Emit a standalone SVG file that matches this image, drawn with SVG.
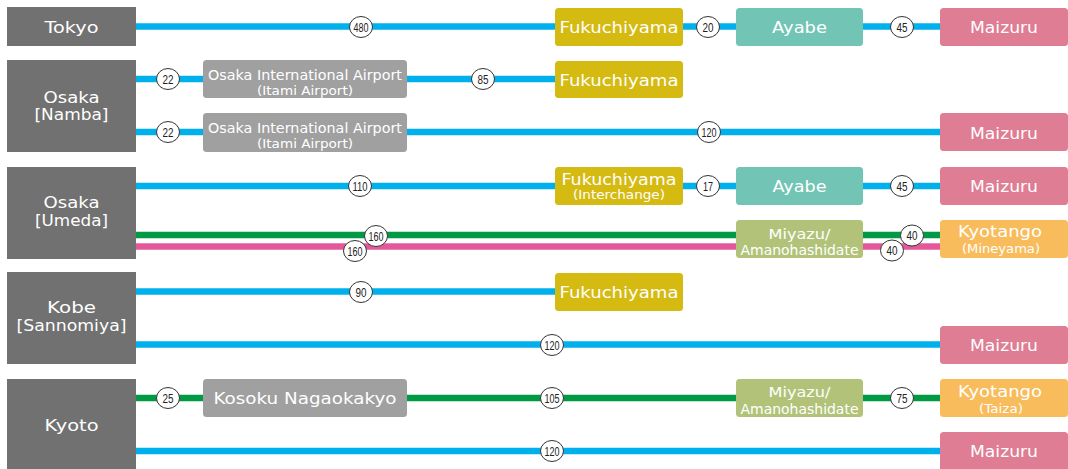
<svg xmlns="http://www.w3.org/2000/svg" width="1068" height="469" viewBox="0 0 1068 469">
<style>
.bg{fill:#ffffff}
.city{fill:#717171}
.gray{fill:#a0a0a0}
.fuku{fill:#d5ba12}
.ayabe{fill:#72c4b4}
.mai{fill:#de7d93}
.miya{fill:#b2c379}
.kyot{fill:#f8bc5c}
.blue{stroke:#00b0ec;stroke-width:6.5;fill:none}
.green{stroke:#009944;stroke-width:6.5;fill:none}
.pink{stroke:#e4589a;stroke-width:6.5;fill:none}
text{font-family:"DejaVu Sans","Liberation Sans",Arial,sans-serif;fill:#ffffff;text-anchor:middle}
.l{font-size:16.5px}
.m{font-size:14.5px}
.s{font-size:11.5px}
.km ellipse{fill:#ffffff;stroke:#333333;stroke-width:1}
.km text{fill:#222222;font-size:12.5px;font-family:"Liberation Sans",Arial,sans-serif}
</style>
<rect class="bg" x="0" y="0" width="1068" height="469"/>

<g id="connectors">
  <line class="blue" x1="136" y1="26.5" x2="942" y2="26.5"/>
  <line class="blue" x1="136" y1="79" x2="557" y2="79"/>
  <line class="blue" x1="136" y1="132" x2="942" y2="132"/>
  <line class="blue" x1="136" y1="186" x2="942" y2="186"/>
  <line class="green" x1="136" y1="235" x2="942" y2="235"/>
  <line class="pink" x1="136" y1="246.5" x2="942" y2="246.5"/>
  <line class="blue" x1="136" y1="291.5" x2="557" y2="291.5"/>
  <line class="blue" x1="136" y1="344.5" x2="942" y2="344.5"/>
  <line class="green" x1="136" y1="398" x2="942" y2="398"/>
  <line class="blue" x1="136" y1="451" x2="942" y2="451"/>
</g>

<g id="times" class="km">
  <g><ellipse cx="361" cy="27" rx="11.5" ry="10.5"/><text x="361" y="31.5" textLength="15" lengthAdjust="spacingAndGlyphs">480</text></g>
  <g><ellipse cx="708" cy="27" rx="11.5" ry="10.5"/><text x="708" y="31.5" textLength="11" lengthAdjust="spacingAndGlyphs">20</text></g>
  <g><ellipse cx="902" cy="27" rx="11.5" ry="10.5"/><text x="902" y="31.5" textLength="11" lengthAdjust="spacingAndGlyphs">45</text></g>
  <g><ellipse cx="168" cy="79" rx="11.5" ry="10.5"/><text x="168" y="83.5" textLength="11" lengthAdjust="spacingAndGlyphs">22</text></g>
  <g><ellipse cx="483" cy="79" rx="11.5" ry="10.5"/><text x="483" y="83.5" textLength="11" lengthAdjust="spacingAndGlyphs">85</text></g>
  <g><ellipse cx="168" cy="132" rx="11.5" ry="10.5"/><text x="168" y="136.5" textLength="11" lengthAdjust="spacingAndGlyphs">22</text></g>
  <g><ellipse cx="709" cy="132" rx="11.5" ry="10.5"/><text x="709" y="136.5" textLength="15" lengthAdjust="spacingAndGlyphs">120</text></g>
  <g><ellipse cx="360" cy="186" rx="11.5" ry="10.5"/><text x="360" y="190.5" textLength="15" lengthAdjust="spacingAndGlyphs">110</text></g>
  <g><ellipse cx="708" cy="186" rx="11.5" ry="10.5"/><text x="708" y="190.5" textLength="10" lengthAdjust="spacingAndGlyphs">17</text></g>
  <g><ellipse cx="902" cy="186" rx="11.5" ry="10.5"/><text x="902" y="190.5" textLength="11" lengthAdjust="spacingAndGlyphs">45</text></g>
  <g><ellipse cx="376" cy="236" rx="11.5" ry="10.5"/><text x="376" y="240.5" textLength="15" lengthAdjust="spacingAndGlyphs">160</text></g>
  <g><ellipse cx="355" cy="251" rx="11.5" ry="10.5"/><text x="355" y="255.5" textLength="15" lengthAdjust="spacingAndGlyphs">160</text></g>
  <g><ellipse cx="912" cy="235.5" rx="11.5" ry="10.5"/><text x="912" y="240" textLength="11" lengthAdjust="spacingAndGlyphs">40</text></g>
  <g><ellipse cx="892" cy="250.5" rx="11.5" ry="10.5"/><text x="892" y="255" textLength="11" lengthAdjust="spacingAndGlyphs">40</text></g>
  <g><ellipse cx="361" cy="292" rx="11.5" ry="10.5"/><text x="361" y="296.5" textLength="11" lengthAdjust="spacingAndGlyphs">90</text></g>
  <g><ellipse cx="552" cy="345" rx="11.5" ry="10.5"/><text x="552" y="349.5" textLength="15" lengthAdjust="spacingAndGlyphs">120</text></g>
  <g><ellipse cx="168" cy="398" rx="11.5" ry="10.5"/><text x="168" y="402.5" textLength="11" lengthAdjust="spacingAndGlyphs">25</text></g>
  <g><ellipse cx="552" cy="398" rx="11.5" ry="10.5"/><text x="552" y="402.5" textLength="15" lengthAdjust="spacingAndGlyphs">105</text></g>
  <g><ellipse cx="902" cy="398" rx="11.5" ry="10.5"/><text x="902" y="402.5" textLength="11" lengthAdjust="spacingAndGlyphs">75</text></g>
  <g><ellipse cx="552" cy="451" rx="11.5" ry="10.5"/><text x="552" y="455.5" textLength="15" lengthAdjust="spacingAndGlyphs">120</text></g>
</g>

<!-- origin cities -->
<g id="tokyo"><rect class="city" x="7" y="7" width="129" height="39"/><text class="l" x="71.5" y="32.5" textLength="54" lengthAdjust="spacingAndGlyphs">Tokyo</text></g>
<g id="osaka-namba"><rect class="city" x="7" y="60" width="129" height="92"/><text class="l" x="71.5" y="102.5" textLength="56" lengthAdjust="spacingAndGlyphs">Osaka</text><text class="l" x="71.5" y="120" textLength="74" lengthAdjust="spacingAndGlyphs">[Namba]</text></g>
<g id="osaka-umeda"><rect class="city" x="7" y="167" width="129" height="92"/><text class="l" x="71.5" y="208" textLength="56" lengthAdjust="spacingAndGlyphs">Osaka</text><text class="l" x="71.5" y="225.5" textLength="73" lengthAdjust="spacingAndGlyphs">[Umeda]</text></g>
<g id="kobe"><rect class="city" x="7" y="272" width="129" height="92"/><text class="l" x="71.5" y="313" textLength="49" lengthAdjust="spacingAndGlyphs">Kobe</text><text class="l" x="71.5" y="331" textLength="110" lengthAdjust="spacingAndGlyphs">[Sannomiya]</text></g>
<g id="kyoto"><rect class="city" x="7" y="379" width="129" height="92"/><text class="l" x="71.5" y="431" textLength="54" lengthAdjust="spacingAndGlyphs">Kyoto</text></g>

<!-- row 1 -->
<g id="r1-fukuchiyama"><rect class="fuku" x="555" y="8" width="128" height="38" rx="3.5"/><text class="l" x="619" y="33" textLength="119" lengthAdjust="spacingAndGlyphs">Fukuchiyama</text></g>
<g id="r1-ayabe"><rect class="ayabe" x="736" y="8" width="127" height="38" rx="3.5"/><text class="l" x="799.5" y="33" textLength="55" lengthAdjust="spacingAndGlyphs">Ayabe</text></g>
<g id="r1-maizuru"><rect class="mai" x="940" y="8" width="128" height="38" rx="3.5"/><text class="l" x="1004" y="33" textLength="68" lengthAdjust="spacingAndGlyphs">Maizuru</text></g>

<!-- row 2 -->
<g id="r2a-itami"><rect class="gray" x="203" y="60" width="204" height="38" rx="3.5"/><text class="m" x="305" y="80" textLength="194" lengthAdjust="spacingAndGlyphs">Osaka International Airport</text><text class="s" x="305" y="94.5" textLength="96" lengthAdjust="spacingAndGlyphs">(Itami Airport)</text></g>
<g id="r2a-fukuchiyama"><rect class="fuku" x="555" y="61" width="128" height="37" rx="3.5"/><text class="l" x="619" y="86" textLength="119" lengthAdjust="spacingAndGlyphs">Fukuchiyama</text></g>
<g id="r2b-itami"><rect class="gray" x="203" y="113" width="204" height="39" rx="3.5"/><text class="m" x="305" y="133" textLength="194" lengthAdjust="spacingAndGlyphs">Osaka International Airport</text><text class="s" x="305" y="147.5" textLength="96" lengthAdjust="spacingAndGlyphs">(Itami Airport)</text></g>
<g id="r2b-maizuru"><rect class="mai" x="940" y="113" width="128" height="38" rx="3.5"/><text class="l" x="1004" y="138.5" textLength="68" lengthAdjust="spacingAndGlyphs">Maizuru</text></g>

<!-- row 3 -->
<g id="r3a-fukuchiyama-ic"><rect class="fuku" x="555" y="167" width="128" height="38" rx="3.5"/><text class="l" x="619" y="185" textLength="115" lengthAdjust="spacingAndGlyphs">Fukuchiyama</text><text class="s" x="619" y="199" textLength="92" lengthAdjust="spacingAndGlyphs">(Interchange)</text></g>
<g id="r3a-ayabe"><rect class="ayabe" x="736" y="167" width="127" height="38" rx="3.5"/><text class="l" x="799.5" y="192" textLength="54" lengthAdjust="spacingAndGlyphs">Ayabe</text></g>
<g id="r3a-maizuru"><rect class="mai" x="940" y="167" width="128" height="38" rx="3.5"/><text class="l" x="1004" y="192" textLength="68" lengthAdjust="spacingAndGlyphs">Maizuru</text></g>
<g id="r3b-miyazu"><rect class="miya" x="736" y="220" width="127" height="38" rx="3.5"/><text class="m" x="799.5" y="239" textLength="62" lengthAdjust="spacingAndGlyphs">Miyazu/</text><text class="m" x="799.5" y="255" textLength="118" lengthAdjust="spacingAndGlyphs">Amanohashidate</text></g>
<g id="r3b-kyotango"><rect class="kyot" x="940" y="220" width="128" height="38" rx="3.5"/><text class="l" x="1000" y="237" textLength="84" lengthAdjust="spacingAndGlyphs">Kyotango</text><text class="s" x="1001" y="253" textLength="78" lengthAdjust="spacingAndGlyphs">(Mineyama)</text></g>

<!-- row 4 -->
<g id="r4a-fukuchiyama"><rect class="fuku" x="555" y="273" width="128" height="38" rx="3.5"/><text class="l" x="619" y="298" textLength="119" lengthAdjust="spacingAndGlyphs">Fukuchiyama</text></g>
<g id="r4b-maizuru"><rect class="mai" x="940" y="326" width="128" height="38" rx="3.5"/><text class="l" x="1004" y="351" textLength="68" lengthAdjust="spacingAndGlyphs">Maizuru</text></g>

<!-- row 5 -->
<g id="r5a-nagaokakyo"><rect class="gray" x="203" y="379" width="204" height="38" rx="3.5"/><text class="l" x="305" y="404" textLength="183" lengthAdjust="spacingAndGlyphs">Kosoku Nagaokakyo</text></g>
<g id="r5a-miyazu"><rect class="miya" x="736" y="379" width="127" height="38" rx="3.5"/><text class="m" x="799.5" y="397" textLength="62" lengthAdjust="spacingAndGlyphs">Miyazu/</text><text class="m" x="799.5" y="413.5" textLength="118" lengthAdjust="spacingAndGlyphs">Amanohashidate</text></g>
<g id="r5a-kyotango"><rect class="kyot" x="940" y="379" width="128" height="38" rx="3.5"/><text class="l" x="1000" y="396.5" textLength="84" lengthAdjust="spacingAndGlyphs">Kyotango</text><text class="s" x="1001" y="412.5" textLength="44" lengthAdjust="spacingAndGlyphs">(Taiza)</text></g>
<g id="r5b-maizuru"><rect class="mai" x="940" y="432" width="128" height="40" rx="3.5"/><text class="l" x="1004" y="457" textLength="68" lengthAdjust="spacingAndGlyphs">Maizuru</text></g>
</svg>
